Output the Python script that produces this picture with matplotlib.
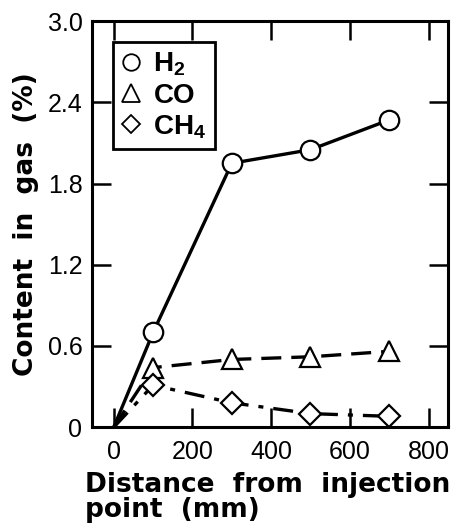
import matplotlib
matplotlib.use("Agg")
import matplotlib.pyplot as plt

# data
distance = [0, 100, 300, 500, 700]
h2 = [0, 0.70, 1.95, 2.05, 2.27]
co = [0, 0.44, 0.50, 0.52, 0.56]
ch4 = [0, 0.31, 0.18, 0.10, 0.08]

xticks = [0, 200, 400, 600, 800]
yticks = [0, 0.6, 1.2, 1.8, 2.4, 3.0]
ytick_labels = ["0", "0.6", "1.2", "1.8", "2.4", "3.0"]

fig = plt.figure(figsize=(4.63, 5.28), dpi=100)
ax = fig.add_axes([0.199, 0.191, 0.769, 0.769])

mk = dict(markerfacecolor="white", markeredgecolor="black", markeredgewidth=1.6, color="black")

ax.plot(distance, h2, "-", lw=2.4, **mk)
ax.plot(distance, co, "--", lw=2.4, dashes=(6, 3), **mk)
ax.plot(distance, ch4, "-.", lw=2.4, dashes=(6, 3, 1.5, 3), **mk)
# markers drawn separately so the start point (0,0) has none
ax.plot(distance[1:], h2[1:], "o", ms=14, ls="none", label=r"H$_\mathregular{2}$", zorder=3, **mk)
ax.plot(distance[1:], co[1:], "^", ms=15, ls="none", label="CO", zorder=3, **mk)
ax.plot(distance[1:], ch4[1:], "D", ms=11, ls="none", label=r"CH$_\mathregular{4}$", zorder=3, **mk)

ax.set_xlim(-55, 850)
ax.set_ylim(0, 3.0)
ax.set_xticks(xticks)
ax.set_yticks(yticks)
ax.set_yticklabels(ytick_labels)

for lab in ax.get_xticklabels() + ax.get_yticklabels():
    lab.set_family("Liberation Sans")
    lab.set_fontsize(18)

ax.tick_params(axis="x", pad=9)
ax.tick_params(axis="y", pad=7)
ax.tick_params(direction="in", length=14, width=1.8, top=True, right=True)
for s in ax.spines.values():
    s.set_linewidth(2.2)

ax.set_ylabel("Content  in  gas  (%)", fontsize=19, fontweight="bold", labelpad=6)
ax.text(-0.02, -0.160, "Distance  from  injection", transform=ax.transAxes,
        fontsize=19, fontweight="bold", ha="left", va="baseline")
ax.text(-0.02, -0.222, "point  (mm)", transform=ax.transAxes,
        fontsize=19, fontweight="bold", ha="left", va="baseline")

leg = ax.legend(loc="upper left", bbox_to_anchor=(0.059, 0.948),
                prop={"family": "Liberation Sans", "weight": "bold", "size": 20},
                frameon=True, fancybox=False,
                handlelength=0.7, handletextpad=0.45, borderpad=0.3, labelspacing=0.15,
                borderaxespad=0, markerscale=0.85)
leg.get_frame().set_edgecolor("black")
leg.get_frame().set_linewidth(2)
leg.get_frame().set_alpha(1)
for h in leg.legend_handles:
    h.set_markeredgewidth(1.3)

fig.savefig("out.png", dpi=100)
